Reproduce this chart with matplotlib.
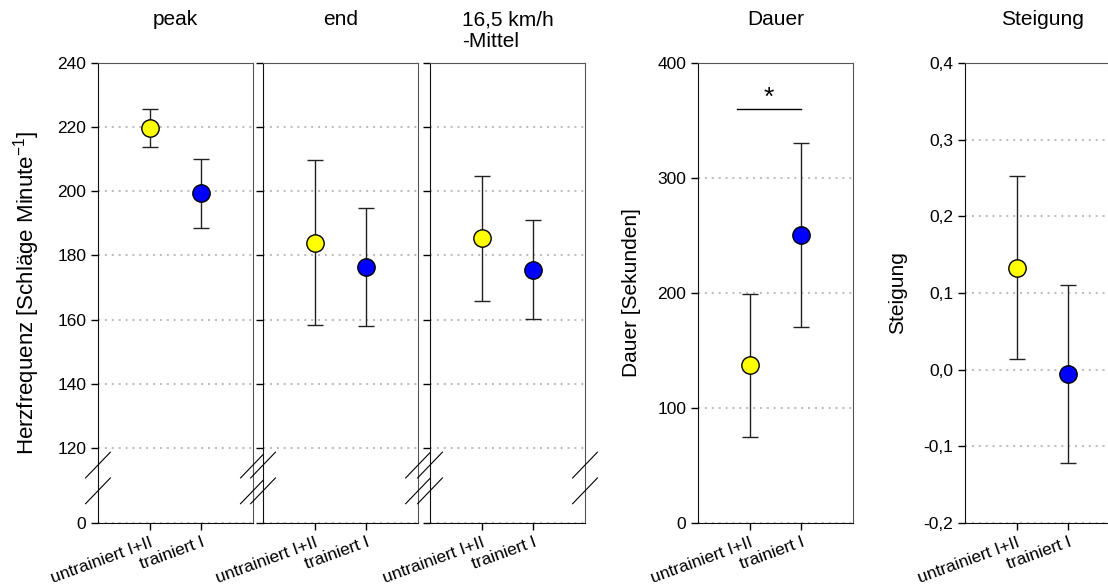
import numpy as np
import matplotlib
matplotlib.use('Agg')
import matplotlib.pyplot as plt
from matplotlib.ticker import FuncFormatter

plt.rcParams['font.family'] = ['Liberation Sans', 'DejaVu Sans']
plt.rcParams['mathtext.fontset'] = 'custom'
plt.rcParams['mathtext.rm'] = 'Liberation Sans'

groups = ['untrainiert I+II', 'trainiert I']
colors = ['#ffff00', '#0000ff']

# Herzfrequenz (Mittelwert, SD)
hf_titles = ['peak', 'end', '16,5 km/h\n-Mittel']
hf_mean = [[219.8, 199.4], [184.0, 176.5], [185.3, 175.6]]
hf_sd = [[6.0, 10.7], [25.8, 18.4], [19.5, 15.3]]
hf_ticks = [0, 120, 140, 160, 180, 200, 220, 240]

dauer_mean = [137.0, 250.5]
dauer_sd = [62.2, 79.8]
dauer_ticks = [0, 100, 200, 300, 400]
dauer_sig = [0.75, 2.0, 360]

steig_mean = [0.133, -0.006]
steig_sd = [0.119, 0.116]
steig_ticks = [-0.2, -0.1, 0.0, 0.1, 0.2, 0.3, 0.4]

# gebrochene Achse: unter 120 gestaucht
K = 23.44 / 120


def hf_fwd(y):
    y = np.asarray(y, dtype=float)
    return np.where(y >= 120, y, 120 - (120 - y) * K)


def hf_inv(y):
    y = np.asarray(y, dtype=float)
    return np.where(y >= 120, y, 120 - (120 - y) / K)


def draw_points(ax, mean, sd):
    x = np.arange(1, len(mean) + 1)
    ax.errorbar(x, mean, yerr=sd, fmt='none', ecolor='#222222', elinewidth=1,
                capsize=5.5, capthick=1, zorder=3)
    for xi, m, c in zip(x, mean, colors):
        ax.plot(xi, m, 'o', ms=12.5, mfc=c, mec='black', mew=1, zorder=4)


def style_axis(ax, title, ticks, labels=True):
    ax.set_xlim(0, 3)
    ax.set_xticks([1, 2])
    ax.set_xticklabels(groups, rotation=20, ha='right', va='top',
                       rotation_mode='anchor', fontsize=13)
    ax.set_yticks(ticks)
    ax.tick_params(direction='out', length=5, width=1, labelsize=12.5)
    ax.tick_params(axis='y', labelleft=labels)
    ax.yaxis.grid(True, ls=(0, (1, 2.3)), color='#c0c0c0', lw=1.5)
    ax.set_axisbelow(True)
    for s in ['left', 'bottom']:
        ax.spines[s].set_color('#111111')
    for s in ['right', 'top']:
        ax.spines[s].set_color('#555555')
    ax.text(0.5, 1.115, title, transform=ax.transAxes, ha='center', va='top',
            multialignment='left', fontsize=15)


def break_marks(ax):
    for xs in [0, 1]:
        for yc in [0.126, 0.07]:
            ax.plot([xs - 0.08, xs + 0.08], [yc - 0.028, yc + 0.028],
                    transform=ax.transAxes, color='black', lw=0.8, clip_on=False, zorder=5)


fig = plt.figure(figsize=(11.08, 5.88), dpi=100)
bottom, height = 0.1105, 0.7823
width = 0.1399
hf_lefts = [0.0884, 0.2374, 0.3881]

for i in range(3):
    ax = fig.add_axes([hf_lefts[i], bottom, width, height])
    ax.set_yscale('function', functions=(hf_fwd, hf_inv))
    ax.set_ylim(0, 240)
    draw_points(ax, hf_mean[i], hf_sd[i])
    style_axis(ax, hf_titles[i], hf_ticks, labels=(i == 0))
    break_marks(ax)
    if i == 0:
        ax.set_ylabel('Herzfrequenz [Schläge Minute$^{\\mathrm{-1}}$]', fontsize=16, labelpad=11)

ax = fig.add_axes([0.63, bottom, width, height])
ax.set_ylim(0, 400)
draw_points(ax, dauer_mean, dauer_sd)
style_axis(ax, 'Dauer', dauer_ticks)
ax.plot(dauer_sig[:2], [dauer_sig[2], dauer_sig[2]], color='black', lw=1)
ax.text(sum(dauer_sig[:2]) / 2, dauer_sig[2] + 4, '*', ha='center', va='baseline',
        fontsize=19)
ax.set_ylabel('Dauer [Sekunden]', fontsize=15, labelpad=12)

ax = fig.add_axes([0.8709, bottom, width, height])
ax.set_ylim(-0.2, 0.4)
draw_points(ax, steig_mean, steig_sd)
style_axis(ax, 'Steigung', steig_ticks)
ax.yaxis.set_major_formatter(FuncFormatter(lambda v, p: f'{v:.1f}'.replace('.', ',')))
ax.set_ylabel('Steigung', fontsize=15, labelpad=12)

fig.savefig('out.png', dpi=100)
